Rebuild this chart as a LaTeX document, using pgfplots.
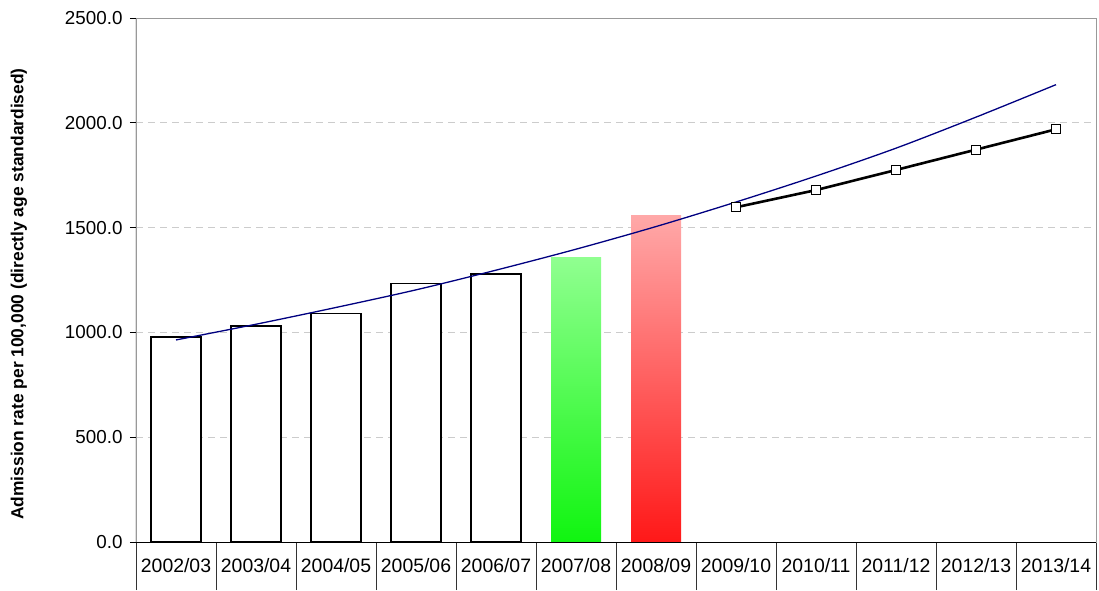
\documentclass[border=0pt]{standalone}
\usepackage{pgfplots}
\pgfplotsset{compat=1.18}
\usepackage{fontspec}
\setmainfont{Liberation Sans}
\definecolor{gtop}{RGB}{144,255,144}
\definecolor{gbot}{RGB}{16,245,16}
\definecolor{rtop}{RGB}{255,168,168}
\definecolor{rbot}{RGB}{255,24,24}
\definecolor{trend}{RGB}{0,0,128}
\begin{document}
\begin{tikzpicture}
\useasboundingbox (-136pt,-48pt) rectangle (963pt,542pt);
\begin{axis}[
  at={(0,0)}, anchor=south west,
  scale only axis, width=960pt, height=524pt,
  xmin=-0.5, xmax=11.5, ymin=0, ymax=2500,
  xtick={0,...,11},
  xticklabels={2002/03,2003/04,2004/05,2005/06,2006/07,2007/08,2008/09,2009/10,2010/11,2011/12,2012/13,2013/14},
  minor xtick={-0.5,0.5,...,11.5},
  major x tick style={draw=none},
  minor x tick style={draw=black!80, line width=0.8pt},
  minor tick length=48pt,
  major tick length=6pt,
  tick align=outside,
  xtick pos=bottom, ytick pos=left,
  ytick={0,500,...,2500},
  y tick style={black, line width=0.8pt},
  ymajorgrids,
  grid style={gray!40, line width=0.8pt, dash pattern=on 7pt off 5pt},
  axis line style={gray!80, line width=0.8pt},
  xticklabel style={font=\fontsize{19.4}{22}\selectfont, yshift=-7pt},
  yticklabel style={font=\fontsize{18.8}{22}\selectfont, xshift=-4pt},
  /pgf/number format/assume math mode=true,
  /pgf/number format/fixed, /pgf/number format/fixed zerofill,
  /pgf/number format/precision=1, /pgf/number format/1000 sep={},
  ylabel={Admission rate per 100,000 (directly age standardised)},
  every axis y label/.style={at={(axis description cs:0,0.5)}, xshift=-117pt, yshift=-14pt, rotate=90, anchor=center, font=\bfseries\fontsize{17.4}{20}\selectfont},
]
\addplot[ybar, bar width=50pt, draw=black, fill=white, line width=1.2pt]
  coordinates {(0,978) (1,1031) (2,1089) (3,1232) (4,1279)};
\addplot[ybar, bar width=50pt, draw=none, top color=gtop, bottom color=gbot]
  coordinates {(5,1356)};
\addplot[ybar, bar width=50pt, draw=none, top color=rtop, bottom color=rbot]
  coordinates {(6,1556)};
\addplot[trend, line width=1.3pt, smooth, no marks]
  coordinates {(0,964) (1,1039) (2,1119) (3,1203) (4,1297) (5,1397) (6,1505) (7,1622) (8,1746) (9,1879) (10,2027) (11,2182)};
\addplot[black, line width=2.6pt, mark=square*, mark size=4.5pt, mark options={fill=white, draw=black, line width=0.9pt}]
  coordinates {(7,1597) (8,1679) (9,1775) (10,1872) (11,1969)};
\draw[black, line width=1pt] (rel axis cs:0,1) -- (rel axis cs:0,0) -- (rel axis cs:1,0);
\end{axis}
\end{tikzpicture}
\end{document}
